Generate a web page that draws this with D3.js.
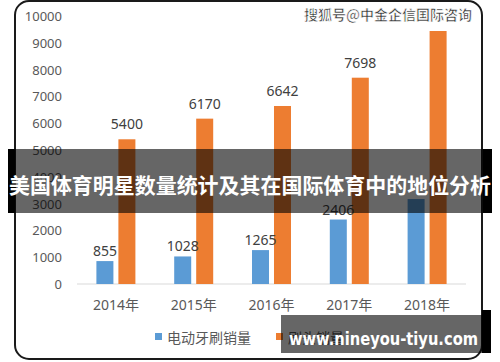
<!DOCTYPE html>
<html lang="zh">
<head>
<meta charset="utf-8">
<title>美国体育明星数量统计</title>
<script src="https://d3js.org/d3.v7.min.js"></script>
<style>
  body { margin: 0; background: #fff; }
  svg { display: block; }
</style>
</head>
<body>
<script>
// chart data
var years = ["2014年", "2015年", "2016年", "2017年", "2018年"];
var seriesNames = ["电动牙刷销量", "刷头销量"];
var blueValues = [855, 1028, 1265, 2406, 3170];
var orangeValues = [5400, 6170, 6642, 7698, 9440];
var blueLabels = ["855", "1028", "1265", "2406", null];   // 2018 label is hidden in the picture
var orangeLabels = ["5400", "6170", "6642", "7698", null];
var yTicks = [0, 1000, 2000, 3000, 4000, 5000, 6000, 7000, 8000, 9000, 10000];
var colors = ["#5B9BD5", "#ED7D31"];

var w = 500, h = 362;
var numFont = "'Noto Sans', 'Noto Sans CJK SC', sans-serif";
var cjkFont = "'Noto Sans CJK SC', 'Noto Sans', sans-serif";

var svg = d3.select("body").append("svg")
  .attr("width", w)
  .attr("height", h);

// frame
svg.append("rect")
  .attr("x", 15).attr("y", 1)
  .attr("width", 467).attr("height", 358)
  .attr("rx", 14)
  .attr("fill", "#fff")
  .attr("stroke", "#1a1a1a")
  .attr("stroke-width", 2);

var x0 = d3.scaleBand().domain(years).range([77, 466]);
var x1 = d3.scaleBand().domain([0, 1])
  .range([19.4, x0.bandwidth() - 19.4])
  .paddingInner(0.227);
var y = d3.scaleLinear().domain([0, 10000]).range([284, 16]);

// y tick labels (no axis line)
svg.selectAll("text.ytick")
  .data(yTicks)
  .enter().append("text")
  .attr("class", "ytick")
  .attr("x", 62)
  .attr("y", function(d) { return y(d) + 5; })
  .attr("text-anchor", "end")
  .attr("font-family", numFont)
  .attr("font-size", 13)
  .attr("fill", "#595959")
  .text(function(d) { return d; });

// baseline
svg.append("line")
  .attr("x1", 77).attr("x2", 466)
  .attr("y1", y(0)).attr("y2", y(0))
  .attr("stroke", "#d9d9d9")
  .attr("stroke-width", 1);

var rows = years.map(function(yr, i) {
  return {
    year: yr,
    vals: [
      { s: 0, v: blueValues[i], lab: blueLabels[i], off: 5 },
      { s: 1, v: orangeValues[i], lab: orangeLabels[i], off: 10 }
    ]
  };
});

var groups = svg.selectAll("g.year")
  .data(rows)
  .enter().append("g")
  .attr("class", "year")
  .attr("transform", function(d) { return "translate(" + x0(d.year) + ",0)"; });

groups.selectAll("rect")
  .data(function(d) { return d.vals; })
  .enter().append("rect")
  .attr("x", function(d) { return x1(d.s); })
  .attr("y", function(d) { return y(d.v); })
  .attr("width", x1.bandwidth())
  .attr("height", function(d) { return y(0) - y(d.v); })
  .attr("fill", function(d) { return colors[d.s]; });

groups.selectAll("text")
  .data(function(d) { return d.vals.filter(function(v) { return v.lab; }); })
  .enter().append("text")
  .attr("x", function(d) { return x1(d.s) + x1.bandwidth() / 2; })
  .attr("y", function(d) { return y(d.v) - d.off; })
  .attr("text-anchor", "middle")
  .attr("font-family", numFont)
  .attr("font-size", 14)
  .attr("fill", "#404040")
  .text(function(d) { return d.lab; });

// x labels
svg.selectAll("text.xtick")
  .data(years)
  .enter().append("text")
  .attr("class", "xtick")
  .attr("x", function(d) { return x0(d) + x0.bandwidth() / 2; })
  .attr("y", 310)
  .attr("text-anchor", "middle")
  .attr("font-family", numFont)
  .attr("font-size", 14)
  .attr("fill", "#595959")
  .text(function(d) { return d; });

// legend
var legendX = [155, 276];
var legend = svg.selectAll("g.legend")
  .data(seriesNames)
  .enter().append("g")
  .attr("class", "legend")
  .attr("transform", function(d, i) { return "translate(" + legendX[i] + ",0)"; });
legend.append("rect")
  .attr("x", 0).attr("y", 333)
  .attr("width", 7).attr("height", 7)
  .attr("fill", function(d, i) { return colors[i]; });
legend.append("text")
  .attr("x", 12).attr("y", 343)
  .attr("font-family", cjkFont)
  .attr("font-size", 14)
  .attr("fill", "#595959")
  .text(function(d) { return d; });

// watermark top right
svg.append("text")
  .attr("x", 472).attr("y", 20)
  .attr("text-anchor", "end")
  .attr("font-family", cjkFont)
  .attr("font-size", 14)
  .attr("font-weight", "bold")
  .attr("fill", "#333")
  .attr("stroke", "#fff")
  .attr("stroke-width", 0.6)
  .text("搜狐号@中金企信国际咨询");

// title banner overlay
svg.append("rect")
  .attr("x", 15).attr("y", 149)
  .attr("width", 468).attr("height", 64)
  .attr("fill", "#000").attr("opacity", 0.6);
svg.append("rect")
  .attr("x", 8).attr("y", 149)
  .attr("width", 7).attr("height", 64)
  .attr("fill", "#000");
svg.append("rect")
  .attr("x", 483).attr("y", 149)
  .attr("width", 9).attr("height", 64)
  .attr("fill", "#000");
svg.append("text")
  .attr("x", 250).attr("y", 193)
  .attr("text-anchor", "middle")
  .attr("font-family", cjkFont)
  .attr("font-size", 21)
  .attr("font-weight", "bold")
  .attr("fill", "#fff")
  .attr("textLength", 482)
  .attr("lengthAdjust", "spacingAndGlyphs")
  .text("美国体育明星数量统计及其在国际体育中的地位分析");

// bottom-right site box
svg.append("rect")
  .attr("x", 281).attr("y", 315)
  .attr("width", 201).attr("height", 38)
  .attr("fill", "#000").attr("opacity", 0.6);
svg.append("rect")
  .attr("x", 482).attr("y", 310)
  .attr("width", 9).attr("height", 43)
  .attr("fill", "#000");
svg.append("text")
  .attr("x", 289).attr("y", 345)
  .attr("font-family", "'DejaVu Sans', sans-serif")
  .attr("font-size", 17)
  .attr("font-weight", "bold")
  .attr("fill", "#fff")
  .attr("textLength", 189)
  .attr("lengthAdjust", "spacingAndGlyphs")
  .text("www.nineyou-tiyu.com");
</script>
</body>
</html>
